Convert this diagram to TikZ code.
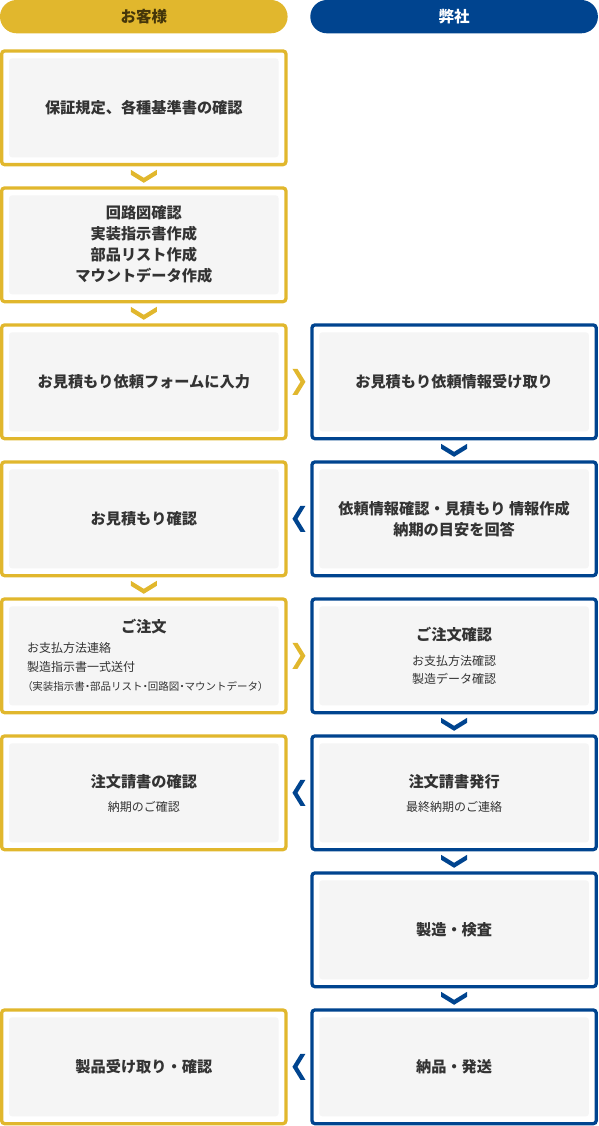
\documentclass[tikz,border=0pt]{standalone}
\usepackage{fontspec}
\setmainfont{Noto Sans CJK JP}
\usepackage{xcolor}
\usepackage{tikz}
\usetikzlibrary{calc}

\definecolor{clientgold}{HTML}{E1B72D}
\definecolor{makerblue}{HTML}{00448F}
\definecolor{panelgray}{HTML}{F5F5F5}
\definecolor{inkgray}{HTML}{333333}
\definecolor{headbrown}{HTML}{45360A}

\newcommand{\halfpunct}[1]{{\addfontfeatures{RawFeature=+palt}#1}}

\begin{document}
\begin{tikzpicture}[x=1pt, y=-1pt,
  flowbox/.style={draw=#1, line width=3.3pt, rounded corners=3pt, fill=white,
    inner sep=0pt, minimum width=284.3pt, minimum height=113.7pt,
    path picture={\fill[panelgray]
      ([shift={(7.35pt,-7.35pt)}]path picture bounding box.north west) rectangle
      ([shift={(-7.35pt,7.35pt)}]path picture bounding box.south east);}},
  headpill/.style={fill=#1, rounded corners=16.6pt, inner sep=0pt,
    minimum height=33.3pt, font=\bfseries\fontsize{15.5}{18}\selectfont},
  maintext/.style={font=\bfseries\fontsize{15.2}{21}\selectfont, text=inkgray,
    align=center, inner sep=0pt},
  subtext/.style={font=\fontsize{12}{18.6}\selectfont, text=inkgray,
    align=center, inner sep=0pt},
  chevdown/.pic={\path[pic actions] (-13,-6.5) -- (0,1.5) -- (13,-6.5)
    -- (13,-1.5) -- (0,6.5) -- (-13,-1.5) -- cycle;},
  chevright/.pic={\path[pic actions] (-6.5,-13) -- (1.5,0) -- (-6.5,13)
    -- (-1.5,13) -- (6.5,0) -- (-1.5,-13) -- cycle;},
  chevleft/.pic={\path[pic actions] (6.5,-13) -- (-1.5,0) -- (6.5,13)
    -- (1.5,13) -- (-6.5,0) -- (1.5,-13) -- cycle;}
]
\useasboundingbox (0,0) rectangle (598,1126);

\def\colL{143.8}
\def\colR{454.1}

% =====================
% Column headers
% =====================
\node[headpill=clientgold, minimum width=287.6pt, text=headbrown] (hcust) at (\colL,16.65) {お客様};
\node[headpill=makerblue, minimum width=287.6pt, text=white] (hmaker) at (\colR,16.65) {弊社};

% =====================
% Customer side (left column)
% =====================
\node[flowbox=clientgold] (c1) at (\colL,107.8) {};
\node[flowbox=clientgold] (c2) at (\colL,244.8) {};
\node[flowbox=clientgold] (c3) at (\colL,381.8) {};
\node[flowbox=clientgold] (c4) at (\colL,518.8) {};
\node[flowbox=clientgold] (c5) at (\colL,655.8) {};
\node[flowbox=clientgold] (c6) at (\colL,792.8) {};
\node[flowbox=clientgold] (c8) at (\colL,1066.8) {};

% =====================
% Our side (right column)
% =====================
\node[flowbox=makerblue] (m3) at (\colR,381.8) {};
\node[flowbox=makerblue] (m4) at (\colR,518.8) {};
\node[flowbox=makerblue] (m5) at (\colR,655.8) {};
\node[flowbox=makerblue] (m6) at (\colR,792.8) {};
\node[flowbox=makerblue] (m7) at (\colR,929.8) {};
\node[flowbox=makerblue] (m8) at (\colR,1066.8) {};

% =====================
% Box texts
% =====================
\node[maintext] (t1) at (c1) {保証規定、各種基準書の確認};
\node[maintext] (t2) at (c2) {回路図確認\\実装指示書作成\\部品リスト作成\\マウントデータ作成};
\node[maintext] (t3) at (c3) {お見積もり依頼フォームに入力};
\node[maintext] (t4) at (c4) {お見積もり確認};
\node[maintext] (t5) at ($(c5)+(0,-29)$) {ご注文};
\node[subtext, align=left, anchor=north west] (s5) at (27,642.5)
  {お支払方法連絡\\製造指示書一式送付\\
   {\fontsize{10.5}{12}\selectfont\halfpunct{（}実装指示書\halfpunct{・}部品リスト\halfpunct{・}回路図\halfpunct{・}マウントデータ\halfpunct{）}}};
\node[maintext] (t6) at ($(c6)+(0,-11)$) {注文請書の確認};
\node[subtext] (s6) at ($(c6)+(0,14)$) {納期のご確認};
\node[maintext] (t8) at (c8) {製品受け取り・確認};

\node[maintext] (u3) at (m3) {お見積もり依頼情報受け取り};
\node[maintext] (u4) at (m4) {依頼情報確認・見積もり 情報作成\\納期の目安を回答};
\node[maintext] (u5) at ($(m5)+(0,-21)$) {ご注文確認};
\node[subtext] (v5) at ($(m5)+(0,14)$) {お支払方法確認\\製造データ確認};
\node[maintext] (u6) at ($(m6)+(0,-11)$) {注文請書発行};
\node[subtext] (v6) at ($(m6)+(0,14)$) {最終納期のご連絡};
\node[maintext] (u7) at (m7) {製造・検査};
\node[maintext] (u8) at (m8) {納品・発送};

% =====================
% Chevrons between steps
% =====================
\pic[fill=clientgold] at ($(c1.south)!0.5!(c2.north)$) {chevdown};
\pic[fill=clientgold] at ($(c2.south)!0.5!(c3.north)$) {chevdown};
\pic[fill=clientgold] at ($(c4.south)!0.5!(c5.north)$) {chevdown};

\pic[fill=makerblue] at ($(m3.south)!0.5!(m4.north)$) {chevdown};
\pic[fill=makerblue] at ($(m5.south)!0.5!(m6.north)$) {chevdown};
\pic[fill=makerblue] at ($(m6.south)!0.5!(m7.north)$) {chevdown};
\pic[fill=makerblue] at ($(m7.south)!0.5!(m8.north)$) {chevdown};

\pic[fill=clientgold] at ($(c3.east)!0.5!(m3.west)$) {chevright};
\pic[fill=clientgold] at ($(c5.east)!0.5!(m5.west)$) {chevright};
\pic[fill=makerblue] at ($(c4.east)!0.5!(m4.west)$) {chevleft};
\pic[fill=makerblue] at ($(c6.east)!0.5!(m6.west)$) {chevleft};
\pic[fill=makerblue] at ($(c8.east)!0.5!(m8.west)$) {chevleft};
\end{tikzpicture}
\end{document}
